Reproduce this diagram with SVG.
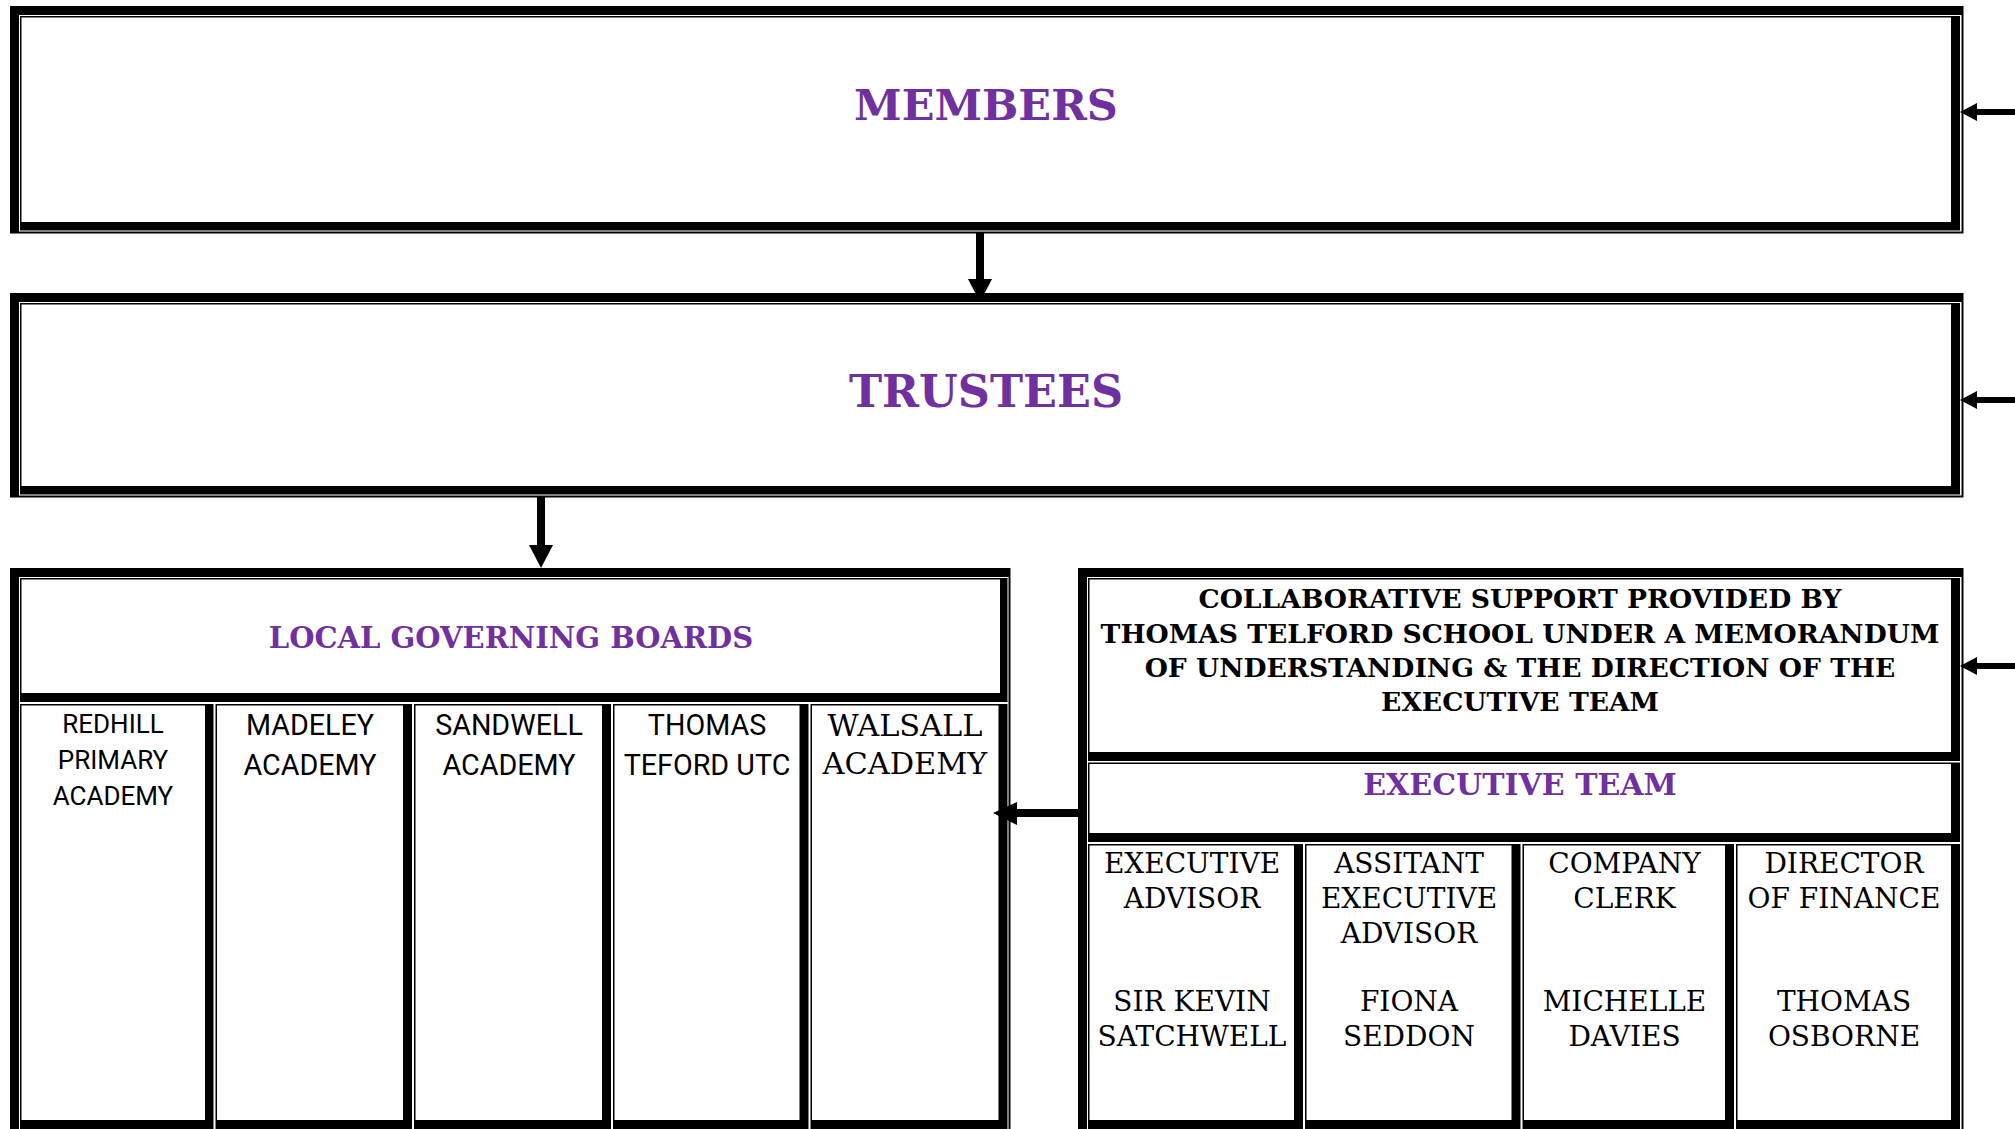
<svg xmlns="http://www.w3.org/2000/svg" width="2015" height="1129" viewBox="0 0 2015 1129">
<style>
.k{fill:#000}
.w{fill:#fff}
.title{font-family:"DejaVu Serif","Liberation Serif",serif;font-weight:bold;fill:#7030A0;text-anchor:middle}
.collab{font-family:"DejaVu Serif","Liberation Serif",serif;font-weight:bold;fill:#000;text-anchor:middle;font-size:26.6px}
.role{font-family:"DejaVu Serif","Liberation Serif",serif;fill:#000;text-anchor:middle;font-size:28px}
.school{font-family:Roboto,"Liberation Sans",sans-serif;fill:#000;text-anchor:middle;font-size:28.7px}
</style>
<rect x="0" y="0" width="2015" height="1129" fill="#fff"/>

<g id="members">
<rect class="k" x="10" y="6" width="1953.5" height="227.5"/>
<rect class="w" x="19" y="15" width="1942.5" height="216.5"/>
<rect class="k" x="20" y="16" width="1940" height="214.5"/>
<rect class="w" x="21.5" y="17.5" width="1929.5" height="204.5"/>
<text class="title" x="986" y="120" font-size="43">MEMBERS</text>
</g>

<g id="trustees">
<rect class="k" x="10" y="293" width="1953.5" height="204.5"/>
<rect class="w" x="19" y="302" width="1942.5" height="193.5"/>
<rect class="k" x="20" y="303" width="1940" height="191.5"/>
<rect class="w" x="21.5" y="304.5" width="1929.5" height="181.5"/>
<text class="title" x="986" y="407" font-size="44.5">TRUSTEES</text>
</g>

<g id="local-governing-boards">
<rect class="k" x="10" y="568" width="1000.5" height="572"/>
<rect class="w" x="19" y="577" width="989.5" height="563"/>
<rect class="k" x="20" y="578" width="987.5" height="124"/>
<rect class="w" x="21.5" y="579.5" width="978.5" height="113.5"/>
<text class="title" x="511" y="648" font-size="29">LOCAL GOVERNING BOARDS</text>
</g>

<g id="redhill">
<rect class="k" x="20" y="704" width="193.5" height="425"/>
<rect class="w" x="21.5" y="705.5" width="183.5" height="414.5"/>
<text class="school" style="font-size:26px"><tspan x="113" y="733">REDHILL</tspan><tspan x="113" y="769">PRIMARY</tspan><tspan x="113" y="805">ACADEMY</tspan></text>
</g>
<g id="madeley">
<rect class="k" x="215.5" y="704" width="196.5" height="425"/>
<rect class="w" x="217" y="705.5" width="186" height="414.5"/>
<text class="school"><tspan x="310" y="735">MADELEY</tspan><tspan x="310" y="775">ACADEMY</tspan></text>
</g>
<g id="sandwell">
<rect class="k" x="414" y="704" width="197" height="425"/>
<rect class="w" x="415.5" y="705.5" width="186.5" height="414.5"/>
<text class="school"><tspan x="509" y="735">SANDWELL</tspan><tspan x="509" y="775">ACADEMY</tspan></text>
</g>
<g id="thomas-telford-utc">
<rect class="k" x="613" y="704" width="195.5" height="425"/>
<rect class="w" x="614.5" y="705.5" width="185" height="414.5"/>
<text class="school"><tspan x="707" y="735">THOMAS</tspan><tspan x="707" y="775">TEFORD UTC</tspan></text>
</g>
<g id="walsall">
<rect class="k" x="810.5" y="704" width="197" height="425"/>
<rect class="w" x="812" y="705.5" width="186.5" height="414.5"/>
<text class="role" style="font-size:30.4px"><tspan x="905" y="736">WALSALL</tspan><tspan x="905" y="774">ACADEMY</tspan></text>
</g>

<g id="collaborative-support">
<rect class="k" x="1078" y="568" width="885.5" height="572"/>
<rect class="w" x="1087" y="577" width="874.5" height="563"/>
<rect class="k" x="1088" y="578" width="872" height="183"/>
<rect class="w" x="1089.5" y="579.5" width="861.5" height="172.5"/>
<text class="collab"><tspan x="1520" y="608">COLLABORATIVE SUPPORT PROVIDED BY</tspan><tspan x="1520" y="643">THOMAS TELFORD SCHOOL UNDER A MEMORANDUM</tspan><tspan x="1520" y="677">OF UNDERSTANDING &amp; THE DIRECTION OF THE</tspan><tspan x="1520" y="711">EXECUTIVE TEAM</tspan></text>
</g>

<g id="executive-team">
<rect class="k" x="1088" y="762.5" width="872" height="79.5"/>
<rect class="w" x="1089.5" y="764" width="861.5" height="69"/>
<text class="title" x="1520" y="795" font-size="30">EXECUTIVE TEAM</text>
</g>

<g id="executive-advisor">
<rect class="k" x="1088" y="844" width="215" height="285"/>
<rect class="w" x="1089.5" y="845.5" width="204.5" height="274.5"/>
<text class="role"><tspan x="1192" y="873">EXECUTIVE</tspan><tspan x="1192" y="908">ADVISOR</tspan><tspan x="1192" y="1011">SIR KEVIN</tspan><tspan x="1192" y="1046">SATCHWELL</tspan></text>
</g>
<g id="assistant-executive-advisor">
<rect class="k" x="1305" y="844" width="215.5" height="285"/>
<rect class="w" x="1306.5" y="845.5" width="205" height="274.5"/>
<text class="role"><tspan x="1409" y="873">ASSITANT</tspan><tspan x="1409" y="908">EXECUTIVE</tspan><tspan x="1409" y="943">ADVISOR</tspan><tspan x="1409" y="1011">FIONA</tspan><tspan x="1409" y="1046">SEDDON</tspan></text>
</g>
<g id="company-clerk">
<rect class="k" x="1522.5" y="844" width="211.5" height="285"/>
<rect class="w" x="1524" y="845.5" width="201" height="274.5"/>
<text class="role"><tspan x="1624.5" y="873">COMPANY</tspan><tspan x="1624.5" y="908">CLERK</tspan><tspan x="1624.5" y="1011">MICHELLE</tspan><tspan x="1624.5" y="1046">DAVIES</tspan></text>
</g>
<g id="director-of-finance">
<rect class="k" x="1736" y="844" width="224" height="285"/>
<rect class="w" x="1737.5" y="845.5" width="213.5" height="274.5"/>
<text class="role"><tspan x="1844" y="873">DIRECTOR</tspan><tspan x="1844" y="908">OF FINANCE</tspan><tspan x="1844" y="1011">THOMAS</tspan><tspan x="1844" y="1046">OSBORNE</tspan></text>
</g>

<g id="connectors" fill="#000">
<rect x="976" y="233" width="8" height="47"/>
<polygon points="968,279 992,279 980,302"/>
<rect x="537" y="497" width="8" height="49"/>
<polygon points="529,545 553,545 541,568"/>
<rect x="1975" y="109" width="40" height="6"/>
<polygon points="1960,112 1977,103 1977,121"/>
<rect x="1975" y="397" width="40" height="6"/>
<polygon points="1960,400 1977,391 1977,409"/>
<rect x="1975" y="663" width="40" height="6"/>
<polygon points="1960,666 1977,657 1977,675"/>
<rect x="1016" y="809" width="62" height="8"/>
<polygon points="993,813 1017,802 1017,825"/>
</g>
</svg>
